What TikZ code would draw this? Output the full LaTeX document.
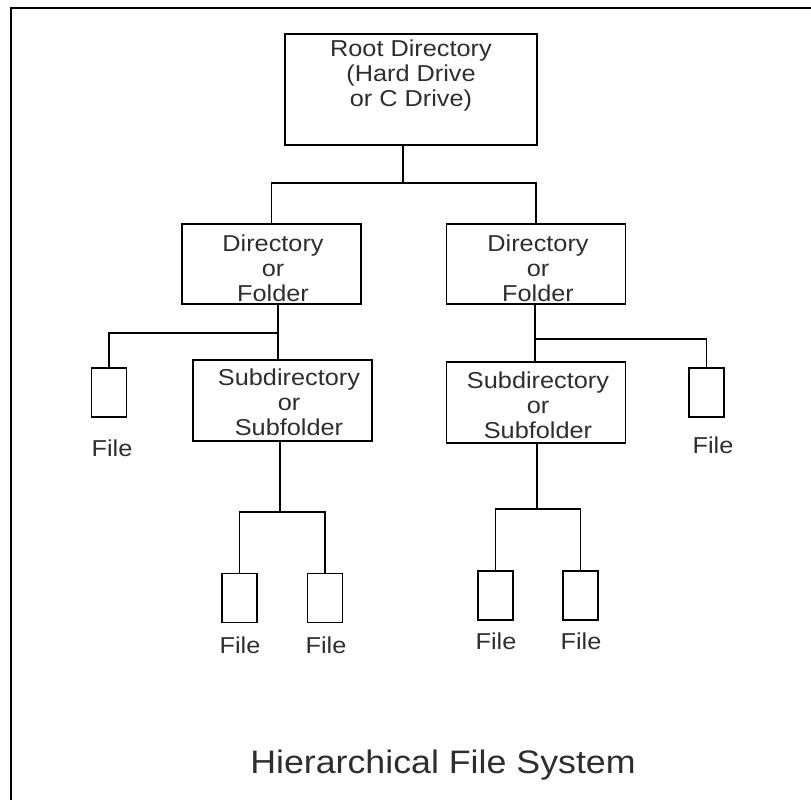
\documentclass[tikz,border=0pt]{standalone}
\usepackage{fontspec}
\setmainfont{Liberation Sans}[FakeStretch=1.1]
\begin{document}
\begin{tikzpicture}[x=1pt, y=-1pt,
  boxst/.style={draw, line width=1.9pt, inner sep=0pt},
  filebox/.style={boxst, minimum width=35pt, minimum height=49pt},
  dirbox/.style={boxst, minimum width=179pt, minimum height=80pt},
  txt/.style={align=center, anchor=base, text=black!82, inner sep=0pt,
    font=\fontsize{23}{25}\selectfont},
  link/.style={line width=1.9pt}]
\useasboundingbox (0,0) rectangle (811,800);
% frame (top and left edges)
\draw[line width=2.4pt] (11,800) -- (11,8) -- (811,8);

% boxes
\node[boxst, minimum width=252pt, minimum height=111pt] (root) at (411,89.5) {};
\node[dirbox] (dirL) at (271.5,264) {};
\node[dirbox] (dirR) at (536,264) {};
\node[dirbox, minimum height=81pt] (subL) at (282.5,400.5) {};
\node[dirbox, minimum height=81pt] (subR) at (536,402.5) {};
\node[filebox] (fileL) at (109,392.5) {};
\node[filebox] (fileR) at (706.5,392.5) {};
\node[filebox] (fLL) at (239.5,598) {};
\node[filebox] (fLR) at (325,598) {};
\node[filebox] (fRL) at (495.5,595.5) {};
\node[filebox] (fRR) at (580.5,595.5) {};

% texts (base anchor = baseline of the last line)
\node[txt] (troot) at (411,106) {Root Directory\\(Hard Drive\\or C Drive)};
\node[txt] (tdirL) at (273,301) {Directory\\or\\Folder};
\node[txt] (tdirR) at (538,301) {Directory\\or\\Folder};
\node[txt] (tsubL) at (289,435) {Subdirectory\\or\\Subfolder};
\node[txt] (tsubR) at (538,438) {Subdirectory\\or\\Subfolder};
\node[txt] (lfileL) at (112,456) {File};
\node[txt] (lfileR) at (713,453) {File};
\node[txt] (lLL) at (240,653) {File};
\node[txt] (lLR) at (326,653) {File};
\node[txt] (lRL) at (496,649) {File};
\node[txt] (lRR) at (581,649) {File};
\node[txt, font=\fontsize{32.5}{36}\selectfont] (title) at (443,773) {Hierarchical File System};

% junctions
\coordinate (j1) at (278,333);
\coordinate (j2) at (535,339);
\coordinate (j3) at (280,512);
\coordinate (j4) at (537,509);

% connectors
\draw[link] ([xshift=-8pt]root.south) -- ++(0,37) coordinate (j0);
\draw[link] (dirL.north) |- (j0) -| (dirR.north);
\draw[link] (dirL.south -| j1) -- (subL.north -| j1);
\draw[link] (j1) -| (fileL.north);
\draw[link] (dirR.south -| j2) -- (subR.north -| j2);
\draw[link] (j2) -| (fileR.north);
\draw[link] (subL.south -| j3) -- (j3);
\draw[link] (fLL.north) |- (j3) -| (fLR.north);
\draw[link] (subR.south -| j4) -- (j4);
\draw[link] (fRL.north) |- (j4) -| (fRR.north);
\end{tikzpicture}
\end{document}
